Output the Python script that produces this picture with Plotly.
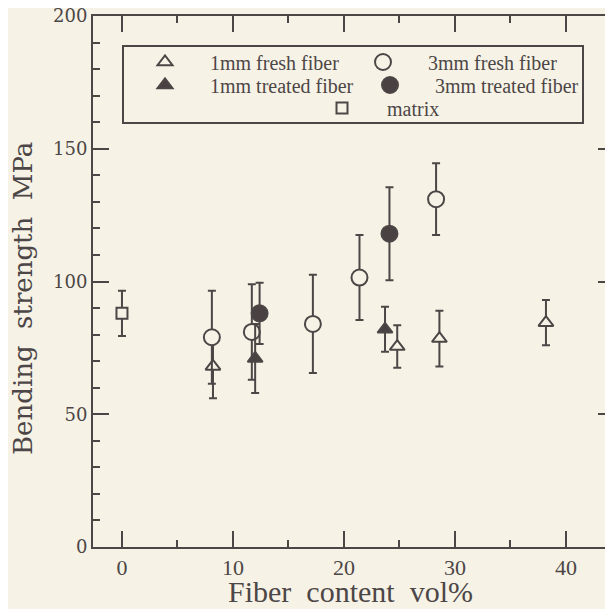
import plotly.graph_objects as go

# ---- data ----
fresh1_x = [8.2, 24.8, 28.6, 38.2]
fresh1_y = [68, 75.5, 78.5, 84.5]
fresh1_e = [12, 8, 10.5, 8.5]

treated1_x = [12.0, 23.7]
treated1_y = [71, 82]
treated1_e = [13, 8.5]

fresh3_x = [8.1, 11.7, 17.2, 21.4, 28.3]
fresh3_y = [79, 81, 84, 101.5, 131]
fresh3_e = [17.5, 18, 18.5, 16, 13.5]

treated3_x = [12.4, 24.1]
treated3_y = [88, 118]
treated3_e = [11.5, 17.5]

matrix_x = [0]
matrix_y = [88]
matrix_e = [8.5]

x_ticks = [0, 10, 20, 30, 40]
y_ticks = [0, 50, 100, 150, 200]

BG = "#f6f3e6"
INK = "#4d4646"
FILL = "#4a4242"

# the page body adds an 8px offset; work in reference pixels and convert
OFF = 8
PL, PR, PT, PB = 93, 614, 16, 547   # plot area edges in reference pixels
W, H = PR - OFF, 609 - OFF
ML, MR, MT, MB = PL - OFF, 0, PT - OFF, H - (PB - OFF)
PW, PH = PR - PL, PB - PT


def px_x(p):
    return (p - PL) / PW


def px_y(p):
    return (PB - p) / PH


def err(e):
    return dict(type="data", array=e, visible=True, color=INK, thickness=2, width=4)


fig = go.Figure()

series = [
    ("1mm fresh fiber", fresh1_x, fresh1_y, fresh1_e, "triangle-up", 13, BG, "legend"),
    ("3mm fresh fiber", fresh3_x, fresh3_y, fresh3_e, "circle", 16, BG, "legend2"),
    ("1mm treated fiber", treated1_x, treated1_y, treated1_e, "triangle-up", 13, FILL, "legend3"),
    ("3mm treated fiber", treated3_x, treated3_y, treated3_e, "circle", 16, FILL, "legend4"),
    ("matrix", matrix_x, matrix_y, matrix_e, "square", 11, BG, "legend5"),
]

for name, xs, ys, es, sym, size, fill, lg in series:
    fig.add_trace(go.Scatter(
        x=xs, y=ys, mode="markers", name=name, legend=lg,
        error_y=err(es),
        marker=dict(symbol=sym, size=size, color=fill, line=dict(color=INK, width=2)),
    ))

# legend symbol centres (reference px)
leg_pos = {
    "legend": (165, 62),
    "legend2": (383, 62),
    "legend3": (165, 85),
    "legend4": (390, 85),
    "legend5": (342, 108),
}
ITEMW = 80
leg_font = dict(family="Liberation Serif", size=20, color=INK)
legend_layouts = {}
for key, (sx, sy) in leg_pos.items():
    legend_layouts[key] = dict(
        x=px_x(sx - (ITEMW + 10) / 2), y=px_y(sy), xanchor="left", yanchor="middle",
        bgcolor="rgba(0,0,0,0)", borderwidth=0, font=leg_font,
        itemwidth=ITEMW, orientation="v", tracegroupgap=0,
    )

axis_common = dict(
    showline=True, linecolor=INK, linewidth=2, mirror="ticks",
    ticks="inside", ticklen=16, tickwidth=2, tickcolor=INK,
    showgrid=False, zeroline=False, ticklabeloverflow="allow",
)

fig.update_layout(
    width=W, height=H,
    margin=dict(l=ML, r=MR, t=MT, b=MB, autoexpand=False),
    paper_bgcolor=BG, plot_bgcolor=BG,
    showlegend=True,
    xaxis=dict(
        range=[-2.61, 44.33], tickvals=x_ticks, ticktext=[str(v) for v in x_ticks],
        tickfont=dict(family="Liberation Serif", size=22, color=INK),
        ticklabelstandoff=0,
        minor=dict(dtick=5, tick0=0, ticks="inside", ticklen=7, tickwidth=2, tickcolor=INK, showgrid=False),
        **axis_common,
    ),
    yaxis=dict(
        range=[0, 200], tickvals=y_ticks, ticktext=[str(v) for v in y_ticks],
        tickfont=dict(family="DejaVu Serif", size=18, color=INK),
        ticklabelstandoff=0,
        minor=dict(dtick=10, tick0=0, ticks="inside", ticklen=7, tickwidth=2, tickcolor=INK, showgrid=False),
        **axis_common,
    ),
    shapes=[dict(
        type="rect", xref="paper", yref="paper",
        x0=px_x(123), x1=px_x(583), y0=px_y(123), y1=px_y(46),
        line=dict(color=INK, width=2), fillcolor="rgba(0,0,0,0)", layer="above",
    )],
    annotations=[
        dict(text="Fiber\u00a0 content\u00a0 vol%", xref="paper", yref="paper",
             x=px_x(350), y=px_y(591), showarrow=False, xanchor="center", yanchor="middle",
             font=dict(family="Liberation Serif", size=30, color=INK)),
        dict(text="Bending\u00a0 strength\u00a0 MPa", xref="paper", yref="paper",
             x=px_x(23), y=px_y(299), showarrow=False, xanchor="center", yanchor="middle",
             textangle=-90, font=dict(family="DejaVu Serif", size=26, color=INK)),
    ],
    **legend_layouts,
)

fig.write_html("out.html")
